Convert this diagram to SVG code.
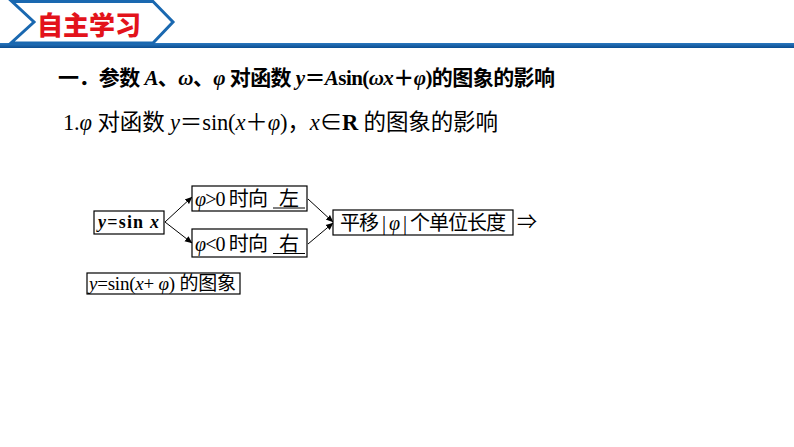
<svg xmlns="http://www.w3.org/2000/svg" width="794" height="447" viewBox="0 0 794 447">
<defs>
<linearGradient id="bar" x1="0" y1="0" x2="0" y2="1">
<stop offset="0" stop-color="#2a78c0"/>
<stop offset="1" stop-color="#0b4d90"/>
</linearGradient>
<marker id="ah" markerWidth="8" markerHeight="8" refX="7" refY="4" orient="auto" markerUnits="userSpaceOnUse">
<path d="M0,0.8 L7.5,4 L0,7.2 Z" fill="#000"/>
</marker>
<style>
.t{font-family:"Liberation Serif","Noto Sans CJK SC",serif;fill:#000}
.box{fill:#fff;stroke:#000;stroke-width:1.2}
.it{font-style:italic}
.con{stroke:#000;stroke-width:1;fill:none}
</style>
</defs>
<rect width="794" height="447" fill="#fff"/>
<g id="header">
<rect x="0" y="43" width="794" height="5" fill="url(#bar)"/>
<polygon points="12,1.5 153,1.5 173,22 153,43 11,43 34,22" fill="#fff" stroke="#1a68b0" stroke-width="3" stroke-linejoin="miter"/>
<text x="37" y="35" font-family="'Noto Sans CJK SC',sans-serif" font-weight="900" font-size="26" fill="#e3131b">自主学习</text>
</g>
<g id="title1">
<text class="t" x="58" y="84.5" font-size="21" font-weight="bold" textLength="497">一．参数 <tspan class="it">A</tspan>、<tspan class="it">ω</tspan>、<tspan class="it">φ</tspan> 对函数 <tspan class="it">y</tspan>＝<tspan class="it">A</tspan>sin(<tspan class="it">ωx</tspan>＋<tspan class="it">φ</tspan>)的图象的影响</text>
</g>
<g id="title2">
<text class="t" x="63" y="129.5" font-size="22.5" textLength="435">1.<tspan class="it">φ</tspan> 对函数 <tspan class="it">y</tspan>＝sin(<tspan class="it">x</tspan>＋<tspan class="it">φ</tspan>)，<tspan class="it">x</tspan>∈<tspan font-weight="bold">R</tspan> 的图象的影响</text>
</g>
<g id="connectors">
<line class="con" x1="165" y1="222" x2="192" y2="197" marker-end="url(#ah)"/>
<line class="con" x1="165" y1="222" x2="192" y2="243" marker-end="url(#ah)"/>
<line class="con" x1="308" y1="199" x2="333" y2="222" marker-end="url(#ah)"/>
<line class="con" x1="308" y1="244" x2="333" y2="223" marker-end="url(#ah)"/>
</g>
<g id="node-start">
<rect class="box" x="94" y="211" width="70" height="23"/>
<text class="t" x="98" y="228" font-size="18" font-weight="bold" textLength="61"><tspan class="it">y</tspan>=sin <tspan class="it">x</tspan></text>
</g>
<g id="node-pos">
<rect class="box" x="192" y="186" width="115" height="25"/>
<text class="t" x="195" y="205.5" font-size="20" textLength="73"><tspan class="it">φ</tspan>&gt;0 时向</text>
<text class="t" x="279" y="205.5" font-size="20">左</text>
<line x1="273" y1="208" x2="305" y2="208" stroke="#000" stroke-width="1"/>
</g>
<g id="node-neg">
<rect class="box" x="192" y="229" width="115" height="28"/>
<text class="t" x="195" y="250.5" font-size="20" textLength="73"><tspan class="it">φ</tspan>&lt;0 时向</text>
<text class="t" x="279" y="250.5" font-size="20">右</text>
<line x1="273" y1="253.5" x2="305" y2="253.5" stroke="#000" stroke-width="1"/>
</g>
<g id="node-shift">
<rect class="box" x="333" y="210" width="180" height="25"/>
<text class="t" x="340" y="230" font-size="20" textLength="166">平移 | <tspan class="it">φ</tspan> | 个单位长度</text>
</g>
<g id="implies">
<text class="t" x="517" y="229" font-size="20">⇒</text>
</g>
<g id="node-result">
<rect class="box" x="87" y="273" width="153" height="21"/>
<text class="t" x="89" y="290" font-size="19" textLength="147"><tspan class="it">y</tspan>=sin(<tspan class="it">x</tspan>+ <tspan class="it">φ</tspan>) 的图象</text>
</g>
</svg>
